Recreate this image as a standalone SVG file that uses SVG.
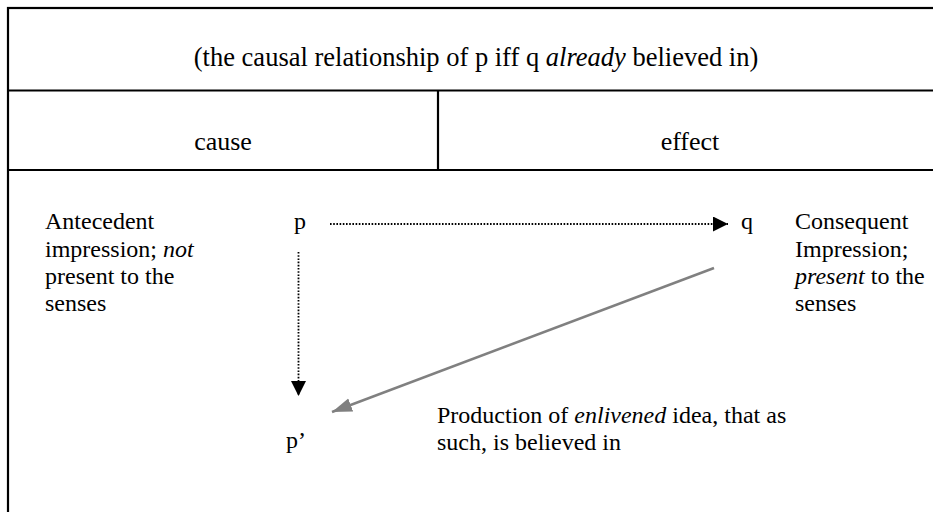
<svg xmlns="http://www.w3.org/2000/svg" width="933" height="512" viewBox="0 0 933 512" font-family="'Liberation Serif', 'Times New Roman', Tinos, 'Nimbus Roman', 'DejaVu Serif', serif">
<style>
text{font-family:'Liberation Serif','Times New Roman',Tinos,'Nimbus Roman','DejaVu Serif',serif;fill:#000}
.b{font-size:24px}
.h{font-size:26px}
.frame{fill:none;stroke:#000;stroke-width:2.2}
.dot{fill:none;stroke:#000;stroke-width:1.8;stroke-dasharray:1.6 1.6}
.gray{fill:none;stroke:#808080;stroke-width:2.5}
</style>
<defs>
<marker id="ah" markerUnits="userSpaceOnUse" markerWidth="16" markerHeight="16" refX="15" refY="7.5" orient="auto">
<path d="M0,0 L15,7.5 L0,15 Z" fill="#000"/>
</marker>
<marker id="ag" markerUnits="userSpaceOnUse" markerWidth="22" markerHeight="16" refX="20" refY="7" orient="auto">
<path d="M0,0 L20,7 L0,14 Z" fill="#808080"/>
</marker>
</defs>
<g id="table">
<rect class="frame" x="8" y="8" width="935" height="520"/>
<line class="frame" x1="8" y1="90.5" x2="943" y2="90.5"/>
<line class="frame" x1="8" y1="170" x2="943" y2="170"/>
<line class="frame" x1="438" y1="90.5" x2="438" y2="170"/>
</g>
<g id="title"><text x="476" y="66" font-size="26.5" text-anchor="middle">(the causal relationship of p iff q <tspan font-style="italic">already</tspan> believed in)</text></g>
<g id="cause"><text class="h" x="223" y="150" text-anchor="middle">cause</text></g>
<g id="effect"><text class="h" x="690" y="150" text-anchor="middle">effect</text></g>
<g id="antecedent">
<text class="b" x="45" y="229">Antecedent</text>
<text class="b" x="45" y="256.5">impression; <tspan font-style="italic">not</tspan></text>
<text class="b" x="45" y="284">present to the</text>
<text class="b" x="45" y="311">senses</text>
</g>
<g id="p"><text class="b" x="294" y="229">p</text></g>
<g id="q"><text class="b" x="741" y="229">q</text></g>
<g id="consequent">
<text class="b" x="795" y="229">Consequent</text>
<text class="b" x="795" y="256.5">Impression;</text>
<text class="b" x="795" y="284"><tspan font-style="italic">present</tspan> to the</text>
<text class="b" x="795" y="311">senses</text>
</g>
<g id="pprime"><text class="b" x="286" y="448">p’</text></g>
<g id="production">
<text class="b" x="437" y="423">Production of <tspan font-style="italic">enlivened</tspan> idea, that as</text>
<text class="b" x="437" y="450">such, is believed in</text>
</g>
<g id="connectors">
<line class="dot" x1="330" y1="224" x2="728" y2="224" marker-end="url(#ah)"/>
<line class="dot" x1="298.5" y1="252" x2="298.5" y2="396" marker-end="url(#ah)"/>
<line class="gray" x1="714" y1="268" x2="332" y2="412" marker-end="url(#ag)"/>
</g>
</svg>
